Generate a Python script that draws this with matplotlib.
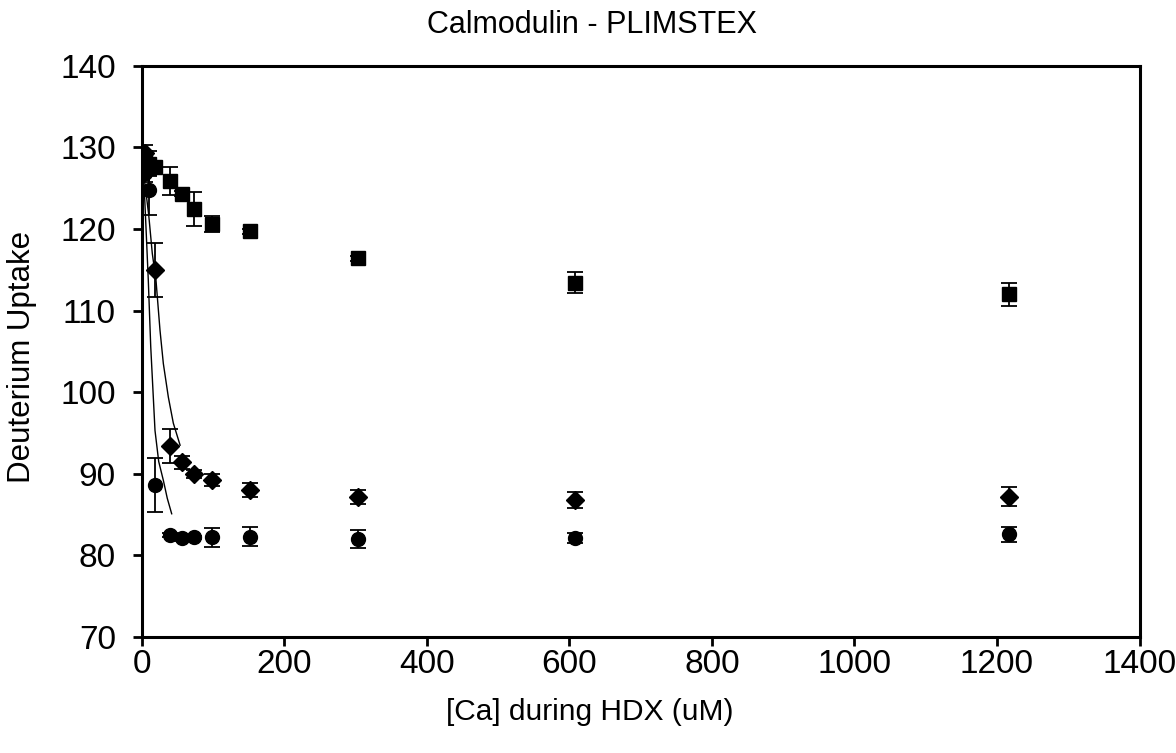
import matplotlib
matplotlib.use("Agg")
import matplotlib.pyplot as plt

plt.rcParams['font.family'] = ['Liberation Sans', 'DejaVu Sans']

# Data
ca = [0, 5, 10, 19, 40, 57, 74, 99, 152, 304, 608, 1217]

sq_y = [127.5, 128.6, 128.0, 127.6, 125.9, 124.3, 122.4, 120.6, 119.7, 116.4, 113.4, 112.0]
sq_err = [1.5, 1.0, 1.5, 0.5, 1.7, 0.3, 2.1, 1.0, 0.3, 0.3, 1.3, 1.4]

di_y = [128.8, 129.3, 127.6, 115.0, 93.4, 91.4, 90.0, 89.2, 88.0, 87.2, 86.8, 87.2]
di_err = [1.0, 1.0, 1.0, 3.3, 2.1, 0.8, 0.5, 0.75, 0.9, 0.85, 1.0, 1.2]

ci_y = [127.5, 126.8, 124.8, 88.6, 82.5, 82.1, 82.2, 82.2, 82.3, 82.0, 82.1, 82.6]
ci_err = [1.0, 1.0, 3.1, 3.3, 0.2, 0.3, 0.2, 1.2, 1.2, 1.1, 0.6, 0.9]

# Fitted curves
fit_di_x = [0, 4, 10, 15, 20.2, 25.8, 30.5, 37.5, 44.5, 54]
fit_di_y = [128.8, 126.0, 121.7, 117.0, 113.7, 107.6, 103.5, 99.4, 96.2, 93.5]
fit_ci_x = [0, 3.8, 6.5, 9.4, 12.8, 18.8, 24.0, 30.5, 36.0, 42.2]
fit_ci_y = [128.0, 124.8, 119.5, 113.7, 105.6, 95.3, 91.5, 89.2, 87.0, 85.1]

W, H = 1176, 753
fig = plt.figure(figsize=(W / 100, H / 100), dpi=100)
ax = fig.add_axes([141.6 / W, 1 - 637 / H, (1139.5 - 141.6) / W, (637 - 65.7) / H])

ax.plot(fit_di_x, fit_di_y, color='black', lw=1.0, zorder=2)
ax.plot(fit_ci_x, fit_ci_y, color='black', lw=1.0, zorder=2)

ekw = dict(color='black', ecolor='black', elinewidth=1.3, capsize=5.5, capthick=1.3,
           linestyle='none', zorder=3)
ax.errorbar(ca, sq_y, yerr=sq_err, marker='s', markersize=10.5, **ekw)
ax.errorbar(ca, di_y, yerr=di_err, marker='D', markersize=9, **ekw)
ax.errorbar(ca, ci_y, yerr=ci_err, marker='o', markersize=10, **ekw)

ax.set_xlim(0, 1400)
ax.set_ylim(70, 140)
ax.set_xticks(range(0, 1401, 200))
ax.set_yticks(range(70, 141, 10))
ax.tick_params(axis='both', direction='out', length=6.5, width=2, labelsize=24)
ax.tick_params(axis='x', pad=2)
ax.tick_params(axis='y', pad=12)
for s in ax.spines.values():
    s.set_linewidth(2.2)

fig.text(590 / W, 1 - 712 / H, '[Ca] during HDX (uM)', ha='center', va='center', fontsize=21.5)
fig.text(22 / W, 1 - 357 / H, 'Deuterium Uptake', ha='center', va='center',
         rotation=90, fontsize=22.5)
fig.text(592 / W, 1 - 25 / H, 'Calmodulin - PLIMSTEX',
         ha='center', va='center', fontsize=22)

fig.savefig('out.png', dpi=100)
